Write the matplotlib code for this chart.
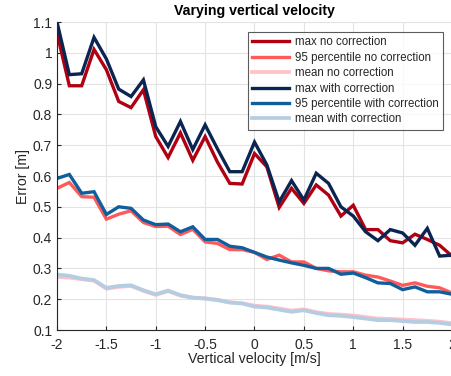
import numpy as np
import matplotlib
matplotlib.use("Agg")
import matplotlib.pyplot as plt
from matplotlib.ticker import FuncFormatter

plt.rcParams['font.family'] = ['Liberation Sans', 'DejaVu Sans']
plt.rcParams['axes.unicode_minus'] = False

velocity = np.arange(-2, 2.0001, 0.125)

max_no = [1.064, 0.893, 0.893, 1.011, 0.945, 0.842, 0.822, 0.880, 0.728, 0.660, 0.740, 0.651,
          0.728, 0.645, 0.576, 0.574, 0.673, 0.630, 0.498, 0.560, 0.511, 0.571, 0.538, 0.470,
          0.505, 0.426, 0.426, 0.390, 0.383, 0.411, 0.394, 0.375, 0.340]
p95_no = [0.560, 0.579, 0.533, 0.531, 0.460, 0.476, 0.487, 0.449, 0.436, 0.437, 0.410, 0.427,
          0.386, 0.381, 0.361, 0.361, 0.352, 0.329, 0.343, 0.321, 0.321, 0.300, 0.292, 0.289,
          0.289, 0.278, 0.272, 0.259, 0.245, 0.253, 0.242, 0.237, 0.220]
mean_no = [0.272, 0.270, 0.265, 0.260, 0.234, 0.240, 0.243, 0.227, 0.214, 0.226, 0.212, 0.205,
           0.203, 0.198, 0.190, 0.187, 0.179, 0.176, 0.170, 0.163, 0.167, 0.158, 0.152, 0.150,
           0.147, 0.142, 0.137, 0.136, 0.134, 0.132, 0.130, 0.127, 0.122]
max_with = [1.100, 0.929, 0.932, 1.050, 0.980, 0.882, 0.858, 0.912, 0.760, 0.696, 0.777, 0.686,
            0.766, 0.688, 0.614, 0.614, 0.710, 0.636, 0.516, 0.585, 0.522, 0.609, 0.576, 0.500,
            0.470, 0.419, 0.390, 0.426, 0.415, 0.375, 0.430, 0.340, 0.343]
p95_with = [0.592, 0.605, 0.544, 0.549, 0.475, 0.500, 0.495, 0.457, 0.442, 0.444, 0.419, 0.435,
            0.394, 0.394, 0.372, 0.367, 0.352, 0.337, 0.327, 0.318, 0.310, 0.300, 0.300, 0.281,
            0.285, 0.270, 0.253, 0.251, 0.231, 0.240, 0.224, 0.224, 0.216]
mean_with = [0.280, 0.276, 0.267, 0.262, 0.237, 0.243, 0.245, 0.229, 0.216, 0.228, 0.213, 0.205,
             0.202, 0.197, 0.189, 0.186, 0.176, 0.173, 0.166, 0.159, 0.164, 0.155, 0.148, 0.146,
             0.142, 0.137, 0.132, 0.132, 0.129, 0.126, 0.126, 0.123, 0.118]

series = [
    ("max no correction", max_no, "#b00012", 2.4),
    ("95 percentile no correction", p95_no, "#ff5a5a", 2.4),
    ("mean no correction", mean_no, "#ffc2c6", 2.7),
    ("max with correction", max_with, "#0b2552", 2.4),
    ("95 percentile with correction", p95_with, "#105f9c", 2.4),
    ("mean with correction", mean_with, "#b5cde3", 2.7),
]

fig = plt.figure(figsize=(4.52, 3.76), dpi=100)
ax = fig.add_axes([57/452, 1-330/376, 395/452, 308/376])

for label, vals, color, lw in series:
    ax.plot(velocity, vals, color=color, lw=lw, label=label, solid_joinstyle='miter')

ax.set_xlim(-2, 2)
ax.set_ylim(0.1, 1.1)
ax.set_xticks(np.arange(-2, 2.01, 0.5))
ax.set_yticks(np.arange(0.1, 1.101, 0.1))
fmt = FuncFormatter(lambda v, p: ('%g' % round(v, 3)))
ax.xaxis.set_major_formatter(fmt)
ax.yaxis.set_major_formatter(fmt)
ax.grid(True, color='#e3e3e3', lw=0.8)
ax.set_axisbelow(True)
for s in ['top', 'right']:
    ax.spines[s].set_visible(False)
for s in ['left', 'bottom']:
    ax.spines[s].set_color('#262626')
    ax.spines[s].set_linewidth(0.8)
ax.tick_params(direction='in', length=3, colors='#262626', labelsize=10, width=0.8)
ax.tick_params(axis='x', pad=6)

ax.set_xlabel("Vertical velocity [m/s]", fontsize=10.2, color='#262626', labelpad=0)
ax.set_ylabel("Error [m]", fontsize=10.2, color='#262626', labelpad=2)
ax.set_title("Varying vertical velocity", fontsize=10.2, fontweight='bold', color='black', pad=5)

leg = ax.legend(loc='upper right', bbox_to_anchor=(0.977, 0.967), fontsize=8.3,
                frameon=True, fancybox=False, edgecolor='#333333', handlelength=3.2,
                labelspacing=0.3, borderpad=0.35, handletextpad=0.5, borderaxespad=0.0)
leg.get_frame().set_linewidth(0.8)
for t in leg.get_texts():
    t.set_color('#262626')

fig.savefig("out.png", dpi=100)
